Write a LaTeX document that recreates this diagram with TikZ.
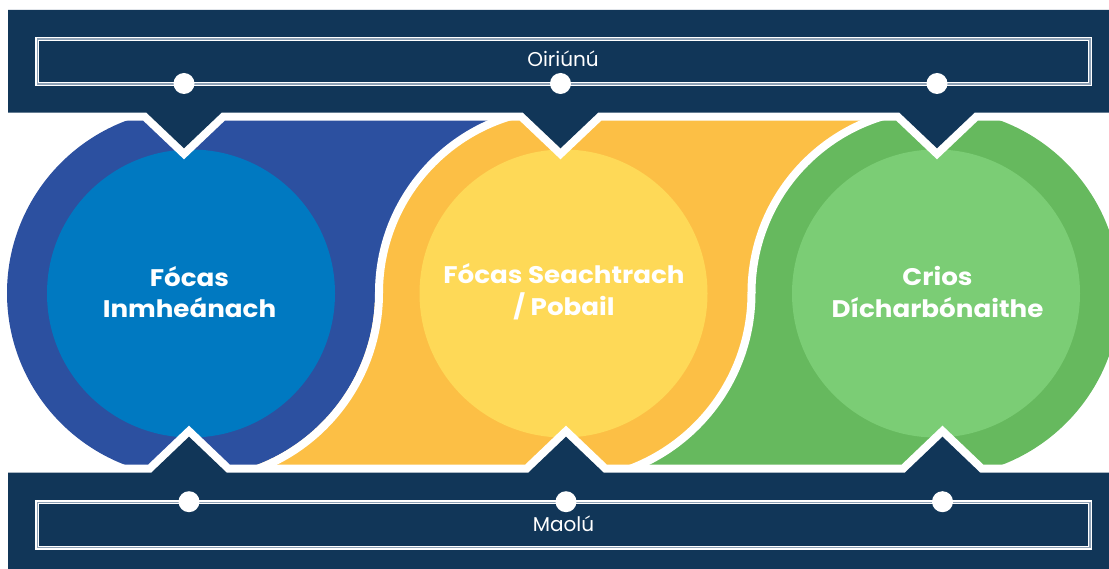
\documentclass[tikz,border=0pt]{standalone}
\usepackage{fontspec}
\setmainfont{Poppins}
\newfontfamily\titlefont{Poppins}[FakeStretch=1.09]
\definecolor{navy}{HTML}{113658}
\definecolor{bluO}{HTML}{2C50A0}
\definecolor{bluI}{HTML}{0079C1}
\definecolor{yelO}{HTML}{FCBF45}
\definecolor{yelI}{HTML}{FED957}
\definecolor{grnO}{HTML}{66B95E}
\definecolor{grnI}{HTML}{7BCD75}
\definecolor{lineg}{HTML}{8EA1B5}
\begin{document}
\begin{tikzpicture}[x=1pt,y=-1pt,
  band/.style={fill=navy, preaction={draw=white, line width=16pt, line join=miter}},
  whitearc/.style={draw=white, line width=8pt},
  dot/.style={circle, fill=white, inner sep=0pt, minimum size=21pt},
  title/.style={text=white, font=\titlefont\bfseries\fontsize{24}{31.7}\selectfont, align=center},
  label/.style={text=white, font=\fontsize{20}{24}\selectfont},
  frame/.style={draw=white, line width=4.3pt, postaction={draw=lineg, line width=1.3pt}}]
\useasboundingbox (0,0) rectangle (1109,569);
\clip (0,0) rectangle (1109,569);
% outer coloured shapes
\fill[bluO] (191,100) rectangle (563.5,293);
\fill[yelO] (563.5,100) rectangle (936,293);
\fill[yelO] (191,293) rectangle (563.5,480);
\fill[grnO] (563.5,293) rectangle (936,480);
\fill[bluO] (191,293) circle[radius=184];
\fill[yelO] (563.5,293) circle[radius=186];
\fill[grnO] (936,293) circle[radius=184];
% white separating curves
\begin{scope}
  \clip (0,0) rectangle (563.5,293);
  \draw[whitearc] (563.5,293) circle[radius=184.5];
\end{scope}
\begin{scope}
  \clip (191,293) rectangle (563.5,569);
  \draw[whitearc] (191,293) circle[radius=188];
\end{scope}
\begin{scope}
  \clip (563.5,0) rectangle (936,293);
  \draw[whitearc] (936,293) circle[radius=184.5];
\end{scope}
\begin{scope}
  \clip (563.5,293) rectangle (936,569);
  \draw[whitearc] (563.5,293) circle[radius=188];
\end{scope}
% inner circles
\fill[bluI] (191,293.5) circle[radius=144];
\fill[yelI] (563.5,293.5) circle[radius=144];
\fill[grnI] (936,293.5) circle[radius=144];
% bands
\path[band] (8,10) -- (1130,10) -- (1130,112.7) -- (974.5,112.7) -- (937,148.3) -- (899.5,112.7)
  -- (598,112.7) -- (560.5,148.3) -- (523,112.7) -- (221.5,112.7) -- (184,148.3) -- (146.5,112.7)
  -- (8,112.7) -- cycle;
\path[band] (8,472.5) -- (151.5,472.5) -- (189,436.7) -- (226.5,472.5) -- (528.5,472.5) -- (566,436.7)
  -- (603.5,472.5) -- (905,472.5) -- (942.5,436.7) -- (980,472.5) -- (1130,472.5) -- (1130,590)
  -- (8,590) -- cycle;
% frames
\draw[frame] (37.2,39) rectangle (1090,84);
\draw[frame] (37.2,502.3) rectangle (1090,547.7);
% dots
\node[dot] (d1) at (184,83.5) {};
\node[dot] (d2) at (560.5,83.5) {};
\node[dot] (d3) at (937,83.5) {};
\node[dot] (d4) at (189,501.7) {};
\node[dot] (d5) at (566,501.7) {};
\node[dot] (d6) at (942.5,501.7) {};
% labels
\node[label, anchor=base] (top) at (563,66.7) {Oiriúnú};
\node[label, anchor=base] (bot) at (563.5,531.7) {Maolú};
\node[title] (t1) at (189.5,292) {Fócas\\Inmheánach};
\node[title] (t2) at (564,292) {Fócas Seachtrach\\/ Pobail};
\node[title] (t3) at (937.5,292) {Crios\\Dícharbónaithe};
\end{tikzpicture}
\end{document}
